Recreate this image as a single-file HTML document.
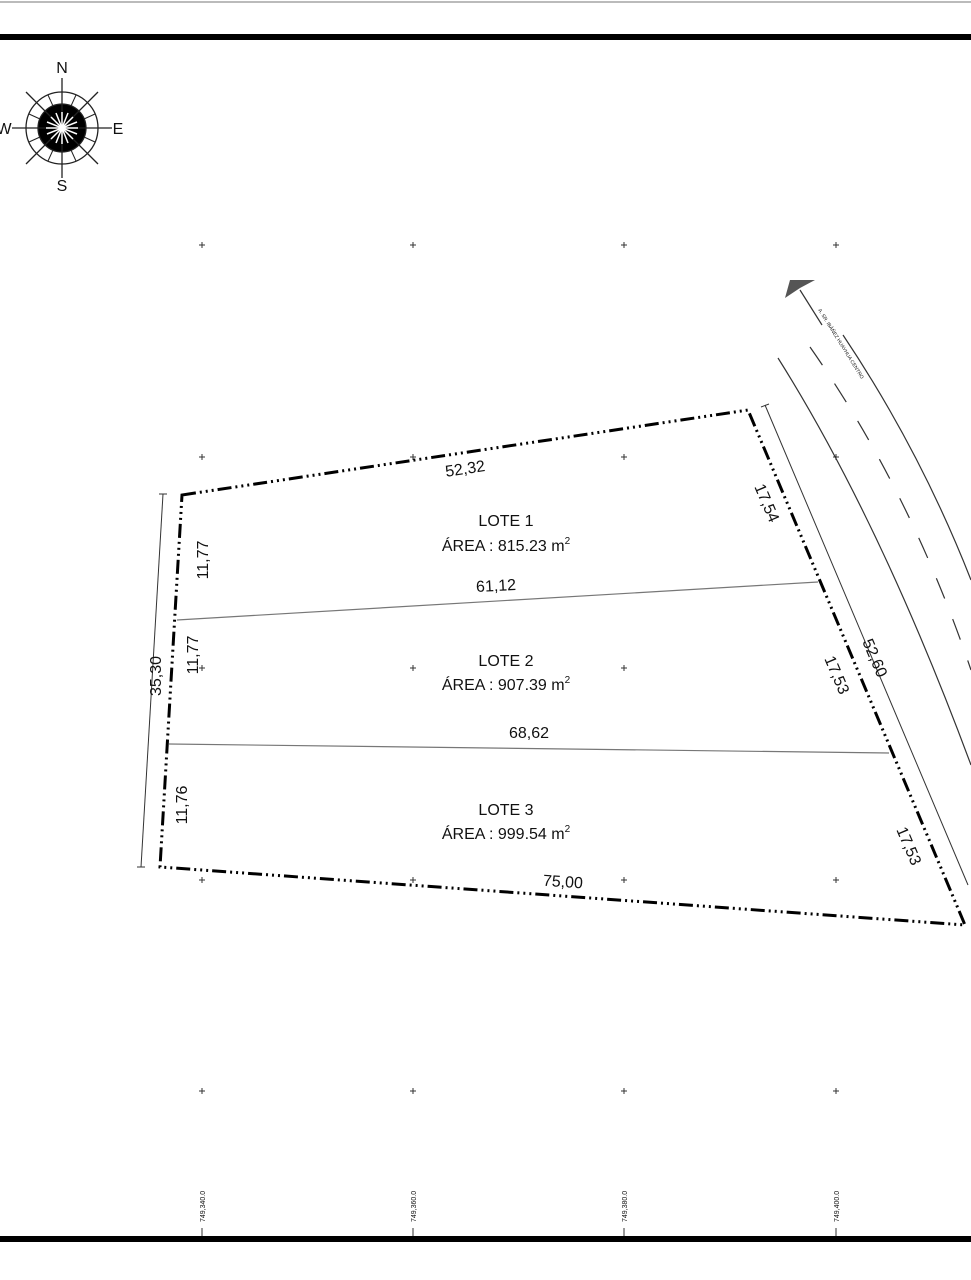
<!DOCTYPE html>
<html><head><meta charset="utf-8"><style>
html,body{margin:0;padding:0;background:#fff}
svg{display:block}
text{font-family:"Liberation Sans",sans-serif;fill:#111}
</style></head><body>
<svg width="971" height="1280" viewBox="0 0 971 1280" xmlns="http://www.w3.org/2000/svg">
<line x1="0" y1="2" x2="971" y2="2" stroke="#bbb" stroke-width="2"/>
<line x1="0" y1="37" x2="971" y2="37" stroke="#000" stroke-width="6"/>
<line x1="0" y1="1239" x2="971" y2="1239" stroke="#000" stroke-width="6"/>
<!-- compass -->
<g transform="translate(62,128)" stroke="#222" stroke-width="1.3" fill="none">
<circle r="36"/><circle r="24" fill="#000"/>
<line x1="0" y1="-50" x2="0" y2="50"/><line x1="-50" y1="0" x2="50" y2="0"/>
<line x1="-36" y1="-36" x2="36" y2="36"/><line x1="-36" y1="36" x2="36" y2="-36"/>
<g stroke-width="1"><line x1="9" y1="-22" x2="14" y2="-33"/><line x1="-9" y1="-22" x2="-14" y2="-33"/><line x1="9" y1="22" x2="14" y2="33"/><line x1="-9" y1="22" x2="-14" y2="33"/><line x1="22" y1="9" x2="33" y2="14"/><line x1="22" y1="-9" x2="33" y2="-14"/><line x1="-22" y1="9" x2="-33" y2="14"/><line x1="-22" y1="-9" x2="-33" y2="-14"/></g>
<g stroke="#fff" stroke-width="1.5"><line x1="-16" y1="0" x2="16" y2="0"/><line x1="0" y1="-16" x2="0" y2="16"/><line x1="-11" y1="-11" x2="11" y2="11"/><line x1="-11" y1="11" x2="11" y2="-11"/><line x1="-6" y1="-15" x2="6" y2="15"/><line x1="6" y1="-15" x2="-6" y2="15"/><line x1="-15" y1="-6" x2="15" y2="6"/><line x1="-15" y1="6" x2="15" y2="-6"/></g>
</g>
<text x="62" y="73" font-size="16" text-anchor="middle">N</text>
<text x="62" y="191" font-size="16" text-anchor="middle">S</text>
<text x="118" y="134" font-size="16" text-anchor="middle">E</text>
<text x="4" y="134" font-size="16" text-anchor="middle">W</text>
<!-- grid crosses -->
<g stroke="#333" stroke-width="1">
<path d="M199 245h6M202 242v6M410 245h6M413 242v6M621 245h6M624 242v6M833 245h6M836 242v6
M199 457h6M202 454v6M410 457h6M413 454v6M621 457h6M624 454v6M833 457h6M836 454v6
M199 668h6M202 665v6M410 668h6M413 665v6M621 668h6M624 665v6
M199 880h6M202 877v6M410 880h6M413 877v6M621 880h6M624 877v6M833 880h6M836 877v6
M199 1091h6M202 1088v6M410 1091h6M413 1088v6M621 1091h6M624 1088v6M833 1091h6M836 1088v6
M202 1228v8M413 1228v8M624 1228v8M836 1228v8"/>
</g>
<g font-size="7" fill="#444">
<text transform="translate(205,1222) rotate(-90)">749,340.0</text>
<text transform="translate(416,1222) rotate(-90)">749,360.0</text>
<text transform="translate(627,1222) rotate(-90)">749,380.0</text>
<text transform="translate(839,1222) rotate(-90)">749,400.0</text>
</g>
<!-- road -->
<g stroke="#333" stroke-width="1.2" fill="none">
<path d="M778 358 Q880 520 971 765"/>
<path d="M843 335 Q920 450 971 580"/>
<path d="M810 347 Q910 490 971 670" stroke-dasharray="22,22"/>
<line x1="800" y1="290" x2="822" y2="325"/>
</g>
<path d="M785 298 L790 280 L815 280 L800 288 Z" fill="#555"/>
<text transform="translate(818,310) rotate(58)" font-size="5" fill="#666">A. SR. IBÁÑEZ HUAYHUA CENTRO</text>
<!-- dimension lines -->
<g stroke="#333" stroke-width="1">
<line x1="163" y1="494" x2="141" y2="867"/><path d="M159 494h8M137 867h8"/>
<line x1="765" y1="405" x2="968" y2="885"/><path d="M761 407l8-3"/>
</g>
<!-- lot dividers -->
<line x1="177" y1="620" x2="818" y2="582" stroke="#777" stroke-width="1.2"/>
<line x1="169" y1="744" x2="889" y2="753" stroke="#777" stroke-width="1.2"/>
<!-- boundary -->
<polygon points="182,495 748,410 965,925 160,867" fill="none" stroke="#000" stroke-width="3" stroke-dasharray="14,4,2,4,2,4,2,4"/>
<!-- labels -->
<g font-size="16" text-anchor="middle">
<text x="506" y="526">LOTE 1</text>
<text x="506" y="551">ÁREA : 815.23 m<tspan font-size="10" dy="-7">2</tspan></text>
<text x="506" y="666">LOTE 2</text>
<text x="506" y="690">ÁREA : 907.39 m<tspan font-size="10" dy="-7">2</tspan></text>
<text x="506" y="815">LOTE 3</text>
<text x="506" y="839">ÁREA : 999.54 m<tspan font-size="10" dy="-7">2</tspan></text>
<text x="465" y="474" transform="rotate(-8.5 465 468)">52,32</text>
<text x="496" y="591" transform="rotate(-3 496 585)">61,12</text>
<text x="529" y="738">68,62</text>
<text x="563" y="887" transform="rotate(4 563 881)">75,00</text>
<text transform="translate(208,560) rotate(-90)">11,77</text>
<text transform="translate(198,655) rotate(-90)">11,77</text>
<text transform="translate(187,805) rotate(-90)">11,76</text>
<text transform="translate(161,676) rotate(-90)">35,30</text>
<text transform="translate(762,505) rotate(67)">17,54</text>
<text transform="translate(832,677) rotate(67)">17,53</text>
<text transform="translate(904,848) rotate(67)">17,53</text>
<text transform="translate(870,660) rotate(67)">52,60</text>
</g>
</svg>
</body></html>
